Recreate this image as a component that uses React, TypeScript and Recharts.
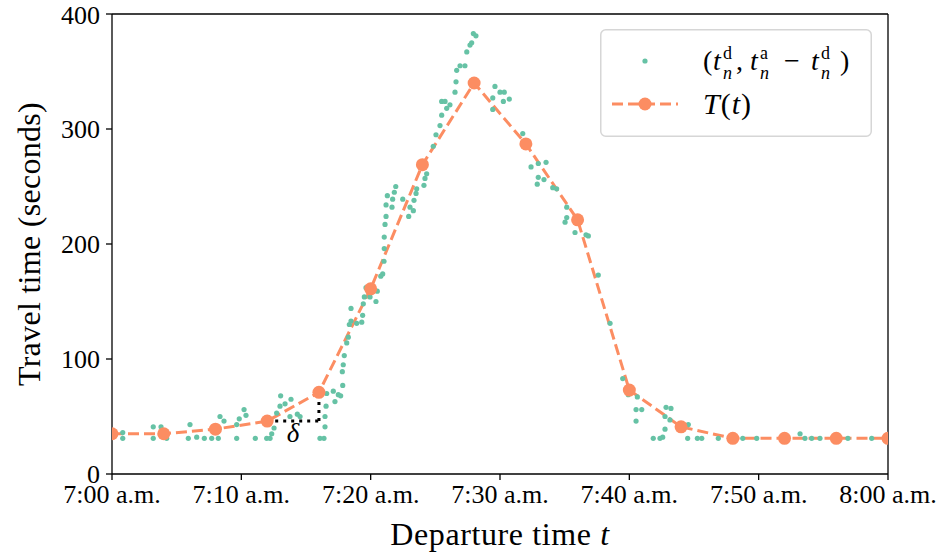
import React from 'react';
import { ComposedChart, Scatter, Line, XAxis, YAxis, ReferenceLine, ReferenceDot } from 'recharts';

// Observed departures (minutes after 7:00 a.m.) and their travel times (s)
const departureMinutes = [
  0.83, 0.83, 3.19, 3.19, 3.79, 4.23, 6.03, 5.9, 6.55, 7.14, 7.71, 8.22, 8.35, 8.66, 9.64, 9.84, 10.21, 10.36, 9.64, 11.08,
  11.96, 12.22, 12.35, 12.53, 12.73, 12.99, 13.04, 13.38, 13.84, 13.76, 14.33, 14.54, 16.08, 16.39, 16.47, 16.47, 16.55, 16.6, 17.24, 17.11,
  17.5, 17.84, 17.68,
  17.81, 17.88, 17.96, 18.15, 18.27, 18.35, 18.48, 18.92, 19.31, 19.38, 18.48, 19.43, 19.51, 19.95, 20.41, 20.51, 19.64, 20.93, 20.78, 21.03,
  21.05, 21.05, 21.11, 21.19, 21.19, 21.65, 21.29, 21.7, 21.83, 21.94, 22.48, 23.04, 22.94, 23.3, 23.35, 23.51, 23.56, 24.12, 24.2, 24.33,
  24.84, 25.05, 25.36, 25.49, 25.49, 25.75, 26.13, 25.88, 26.52, 26.6, 26.65, 26.91, 27.29, 27.43, 27.68, 27.81, 27.94, 28.14,
  29.44, 29.44, 29.61, 30.0, 30.33, 30.26, 30.72, 31.76, 32.4, 32.96, 33.56, 32.96, 33.4, 32.88, 34.08, 34.38, 35.16, 35.16, 35.03, 35.8,
  36.65, 36.83, 37.6, 38.51, 39.49, 39.92, 40.62, 40.52, 40.96, 40.52, 42.84, 43.22, 42.76, 43.14, 44.56, 42.76, 42.58, 41.85, 42.37, 44.51,
  45.26, 45.6, 46.88, 48.77, 49.85, 53.2, 53.58, 54.1, 54.74, 56.9, 58.74, 59.77,
];
const travelSeconds = [
  36, 31, 41, 31, 41, 31, 43, 31, 32, 31, 31, 31, 50, 46, 43, 48, 56, 51, 31, 31,
  31, 31, 35, 40, 53, 59, 68, 61, 65, 50, 52, 50, 31, 31, 50, 41, 59, 70, 63, 72,
  69, 77, 68,
  89, 95, 103, 114, 119, 130, 133, 131, 132, 138, 144, 148, 154, 154, 150, 159, 162, 174, 172, 185,
  196, 206, 217, 224, 234, 232, 242, 239, 245, 250, 239, 232, 224, 229, 238, 244, 248, 251, 257, 261,
  285, 295, 303, 312, 324, 324, 321, 318, 332, 341, 351, 355, 355, 367, 373, 375, 383, 381,
  317, 327, 337, 332, 332, 324, 326, 296, 267, 270, 271, 258, 256, 252, 249, 248, 232, 223, 219, 210,
  208, 207, 173, 131, 83, 69, 67, 56, 56, 46, 58, 57, 50, 47, 43, 39, 32, 31, 31, 31,
  31, 31, 31, 31, 31, 35, 31, 31, 31, 31, 31, 31,
];

// Travel time function T(t)
const modelMinutes = [0, 4, 8, 12, 16, 20, 24, 28, 32, 36, 40, 44, 48, 52, 56, 60];
const modelSeconds = [35, 35, 39, 46, 71, 161, 269, 340, 287, 221, 73, 41, 31, 31, 31, 31];

const xTicks = [0, 10, 20, 30, 40, 50, 60];
const xTickLabels = ['7:00 a.m.', '7:10 a.m.', '7:20 a.m.', '7:30 a.m.', '7:40 a.m.', '7:50 a.m.', '8:00 a.m.'];
const yTicks = [0, 100, 200, 300, 400];

// delta annotation (minutes, seconds)
const deltaStart = 12;
const deltaEnd = 16;
const deltaLow = 46;
const deltaHigh = 71;

const scatterData = departureMinutes.map((t, i) => ({ t, v: travelSeconds[i] }));
const lineData = modelMinutes.map((t, i) => ({ t, v: modelSeconds[i] }));

const GREEN = '#66c2a5';
const ORANGE = '#fc8d62';
const FONT = '"Liberation Serif", "Times New Roman", serif';

const Dot = (p: any) => <circle cx={p.cx} cy={p.cy} r={2.6} fill={GREEN} />;

// t with stacked superscript/subscript at absolute x positions
const TSubSup = ({ x, sup }: { x: number; sup: string }) => (
  <>
    <tspan x={x} y={41} fontStyle="italic">t</tspan>
    <tspan x={x + 10} y={30} fontSize={18}>{sup}</tspan>
    <tspan x={x + 10} y={50} fontSize={18} fontStyle="italic">n</tspan>
  </>
);

export default function App() {
  return (
    <div style={{ position: 'relative', width: 943, height: 554, fontFamily: FONT }}>
      <style>{'body{margin:0;overflow:hidden}'}</style>
      <ComposedChart width={943} height={554} margin={{ top: 14, right: 55, bottom: 0, left: 0 }}>
        <XAxis
          type="number"
          dataKey="t"
          domain={[0, 60]}
          ticks={xTicks}
          tickFormatter={(v: number) => xTickLabels[xTicks.indexOf(v)]}
          allowDataOverflow
          stroke="#000"
          strokeWidth={1.3}
          tickSize={6}
          tickMargin={5}
          tick={{ fill: '#000', fontSize: 26, fontFamily: FONT }}
          height={80}
          label={{
            content: (props: any) => {
              const vb = props.viewBox;
              return (
                <text x={vb.x + vb.width / 2} y={545} textAnchor="middle" fontSize={32} letterSpacing={0.6} fontFamily={FONT} fill="#000">
                  Departure time <tspan fontStyle="italic">t</tspan>
                </text>
              );
            },
          }}
        />
        <YAxis
          type="number"
          dataKey="v"
          domain={[0, 400]}
          ticks={yTicks}
          allowDataOverflow
          width={112}
          stroke="#000"
          strokeWidth={1.3}
          tickSize={6}
          tickMargin={6}
          tick={{ fill: '#000', fontSize: 26, fontFamily: FONT }}
          label={{
            content: (props: any) => {
              const vb = props.viewBox;
              const cy = vb.y + vb.height / 2;
              return (
                <text x={0} y={0} transform={`translate(40, ${cy}) rotate(-90)`} textAnchor="middle" fontSize={32} letterSpacing={0.3} fontFamily={FONT} fill="#000">
                  Travel time (seconds)
                </text>
              );
            },
          }}
        />
        <ReferenceLine y={400} stroke="#000" strokeWidth={1.3} />
        <ReferenceLine x={60} stroke="#000" strokeWidth={1.3} />
        <Scatter data={scatterData} dataKey="v" shape={Dot} isAnimationActive={false} />
        <Line
          data={lineData}
          dataKey="v"
          type="linear"
          stroke={ORANGE}
          strokeWidth={3}
          strokeDasharray="11 5"
          dot={{ r: 6.5, fill: ORANGE, stroke: 'none', strokeDasharray: '' }}
          activeDot={false}
          isAnimationActive={false}
        />
        <ReferenceLine
          segment={[{ x: deltaStart, y: deltaLow }, { x: deltaEnd, y: deltaLow }]}
          stroke="#000"
          strokeWidth={3}
          strokeDasharray="3 5"
        />
        <ReferenceLine
          segment={[{ x: deltaEnd, y: deltaLow }, { x: deltaEnd, y: deltaHigh }]}
          stroke="#000"
          strokeWidth={3}
          strokeDasharray="3 5"
        />
        <ReferenceDot
          x={(deltaStart + deltaEnd) / 2}
          y={deltaLow}
          r={0}
          fill="none"
          stroke="none"
          label={{ value: 'δ', position: 'bottom', offset: 2, fontSize: 27, fontStyle: 'italic', fill: '#000', fontFamily: FONT }}
        />
      </ComposedChart>
      <svg width={272} height={108} style={{ position: 'absolute', left: 600, top: 29 }}>
        <rect x={0.75} y={0.75} width={270.5} height={106.5} rx={5} fill="rgba(255,255,255,0.85)" stroke="#d6d6d6" strokeWidth={1.5} />
        <circle cx={45} cy={32} r={2.6} fill={GREEN} />
        <text fontSize={28} fontFamily={FONT} fill="#000">
          <tspan x={103} y={41}>(</tspan>
          <TSubSup x={113} sup="d" />
          <tspan x={136} y={41}>,</tspan>
          <TSubSup x={150} sup="a" />
          <tspan x={184} y={41}>−</tspan>
          <TSubSup x={211} sup="d" />
          <tspan x={240} y={41}>)</tspan>
        </text>
        <line x1={12} y1={75} x2={78} y2={75} stroke={ORANGE} strokeWidth={3} strokeDasharray="11 5" />
        <circle cx={45} cy={75} r={6.5} fill={ORANGE} />
        <text x={103} y={85} fontSize={30} letterSpacing={1} fontFamily={FONT} fill="#000">
          <tspan fontStyle="italic">T</tspan>(<tspan fontStyle="italic">t</tspan>)
        </text>
      </svg>
    </div>
  );
}
